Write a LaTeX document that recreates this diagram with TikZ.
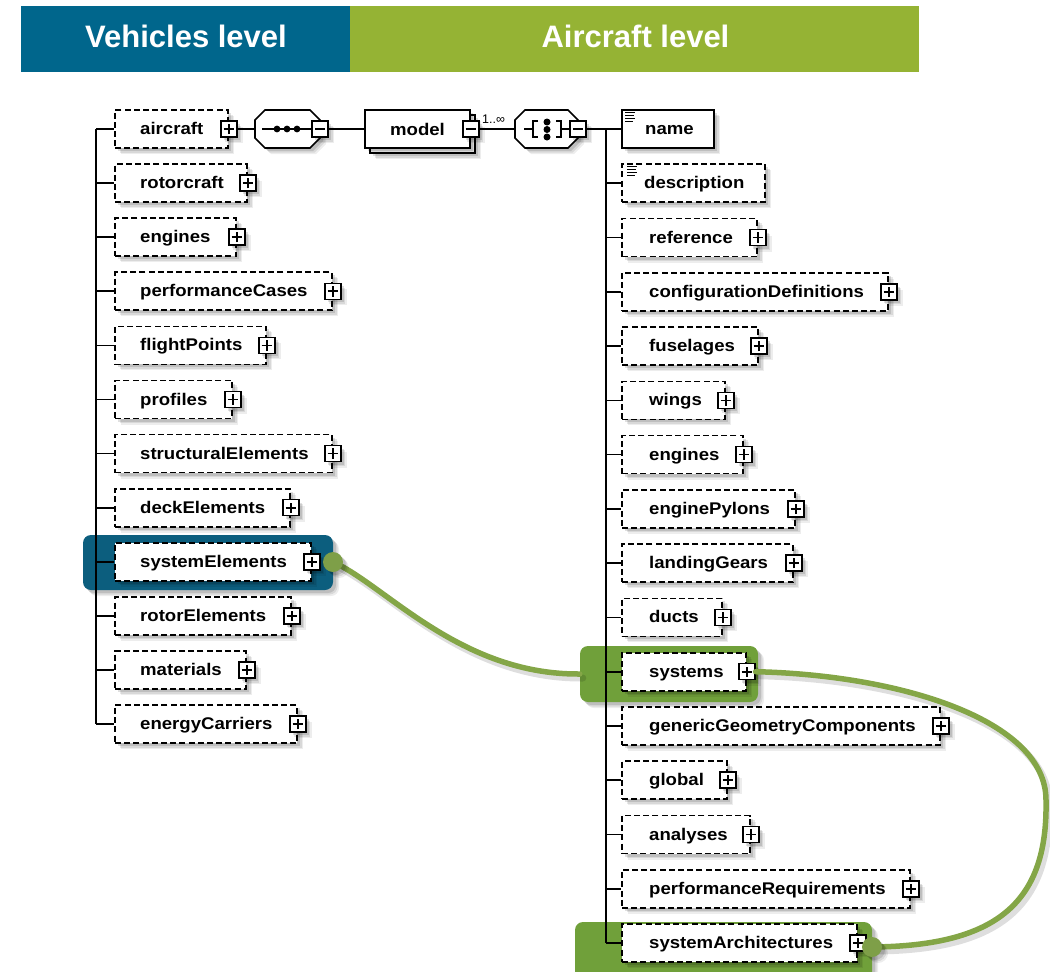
\documentclass[tikz,border=0pt]{standalone}
\usepackage{fontspec}
\setmainfont{Liberation Sans}
\newfontfamily\elemfont{Liberation Sans}[FakeStretch=1.1]
\usetikzlibrary{shadows}

\definecolor{hdrblue}{HTML}{00668C}
\definecolor{hdrgreen}{HTML}{95B334}
\definecolor{hlblue}{HTML}{0C5E7E}
\definecolor{hlgreen}{HTML}{70A03A}
\definecolor{linkgreen}{HTML}{84A647}
\definecolor{dotgreen}{HTML}{7E9F48}

\tikzset{
  soft/.style={
    general shadow={fill=black,opacity=.07,shadow xshift=6pt,shadow yshift=-6pt},
    general shadow={fill=black,opacity=.09,shadow xshift=4.5pt,shadow yshift=-4.5pt},
    general shadow={fill=black,opacity=.12,shadow xshift=3pt,shadow yshift=-3pt}},
  elem/.style={draw=black,fill=white,line width=1.7pt,minimum height=38pt,inner sep=0pt,soft},
  opt/.style={elem,dash pattern=on 6pt off 3.2pt},
  lbl/.style={inner sep=0pt,anchor=base west,font=\elemfont\bfseries\fontsize{16.9}{18}\selectfont},
  pmbox/.style={draw=black,fill=white,line width=1.5pt,minimum size=16pt,inner sep=0pt,soft},
  plusbox/.style={pmbox,path picture={
     \draw[line width=1.7pt] ([xshift=-5.2pt]path picture bounding box.center) -- ([xshift=5.2pt]path picture bounding box.center)
       ([yshift=-5.2pt]path picture bounding box.center) -- ([yshift=5.2pt]path picture bounding box.center);}},
  minusbox/.style={pmbox,path picture={
     \draw[line width=1.7pt] ([xshift=-5.2pt]path picture bounding box.center) -- ([xshift=5.2pt]path picture bounding box.center);}},
  conn/.style={draw=black,line width=1.7pt},
  hl/.style={rounded corners=8pt,inner sep=0pt,soft},
  link/.style={linkgreen,line width=5.5pt,line cap=round},
  linkshade/.style={black,opacity=.13,line width=7pt,line cap=round,transform canvas={shift={(3,4)}}},
  dot/.style={circle,fill=dotgreen,minimum size=20pt,inner sep=0pt,soft},
  hdr/.style={font=\bfseries\fontsize{31}{34}\selectfont,text=white,anchor=base,inner sep=0pt},
  docicon/.style={line width=1.3pt},
}

\begin{document}
\begin{tikzpicture}[x=1pt,y=-1pt]
\useasboundingbox (0,0) rectangle (1050,972);

% header bands
\node[fill=hdrblue,minimum width=329pt,minimum height=66pt,inner sep=0pt] (hdrV) at (185.5,39) {};
\node[fill=hdrgreen,minimum width=569pt,minimum height=66pt,inner sep=0pt] (hdrA) at (634.5,39) {};
\node[hdr] (hdrVt) at (186,47) {Vehicles level};
\node[hdr] (hdrAt) at (635.5,47) {Aircraft level};

% highlight frames
\node[hl,fill=hlblue,minimum width=250pt,minimum height=55pt] (hlA) at (208,562.5) {};
\node[hl,fill=hlgreen,minimum width=178pt,minimum height=56pt] (hlB) at (669,674) {};
\node[hl,fill=hlgreen,minimum width=297pt,minimum height=58pt] (hlC) at (723.5,951) {};

% anchor points of the links
\coordinate (d1pos) at (333,562);
\coordinate (d2pos) at (872,947);

% spines
\coordinate (lsTop) at (96,129);
\coordinate (lsBot) at (96,724);
\coordinate (rsTop) at (606,129);
\coordinate (rsBot) at (606,943.05);
\draw[conn] (lsTop) -- (lsBot);
\draw[conn] (rsTop) -- (rsBot);

% vehicles level children
\foreach \t/\r [count=\i from 0] in {aircraft/228,rotorcraft/247,engines/236,performanceCases/332,flightPoints/266,profiles/232,structuralElements/332,deckElements/290,systemElements/311,rotorElements/291,materials/246,energyCarriers/297}{
  \pgfmathsetmacro\yy{129+54.1*\i}
  \pgfmathsetmacro\ww{\r-115}
  \pgfmathsetmacro\cx{(115+\r)/2}
  \node[opt,minimum width=\ww pt] (L\i) at (\cx,\yy) {};
  \draw[conn] (96,\yy) -- (L\i.west);
  \node[lbl] (T\i) at (140,\yy+5.5) {\t};
  \node[plusbox] (P\i) at (L\i.east) {};
}

% link between the levels (shadow, then line)
\draw[linkshade] (d1pos) .. controls (385,585) and (460,675) .. (hlB.west);
\draw[link] (d1pos) .. controls (385,585) and (460,675) .. (hlB.west);

% sequence compositor
\node[minimum width=65pt,minimum height=38pt,inner sep=0pt] (seq) at (287.5,129) {};
\draw[conn,fill=white,soft] (265,110) -- (310,110) -- (320,120) -- (320,138) -- (310,148) -- (265,148) -- (255,138) -- (255,120) -- cycle;
\draw[conn] (262,129) -- (311,129);
\foreach \dx in {277,287,297} \fill (\dx,129) circle (3.4);
\node[minusbox] (SM) at (seq.east) {};
\draw[conn] (P0.east) -- (seq.west);

% model element (repeated)
\node[elem,minimum width=105pt] (modelback) at (422.5,134) {};
\node[elem,minimum width=105pt,font=\elemfont\bfseries\fontsize{16.9}{18}\selectfont] (model) at (417.5,129) {model};
\node[minusbox] (MM) at (model.east) {};
\draw[conn] (SM.east) -- (model.west);
\node[inner sep=0pt,anchor=base west,font=\fontsize{12.5}{14}\selectfont] (mult) at (482,123) {1..∞};

% choice compositor
\node[minimum width=63pt,minimum height=38pt,inner sep=0pt] (cho) at (546.5,129) {};
\draw[conn,fill=white,soft] (525,110) -- (568,110) -- (578,120) -- (578,138) -- (568,148) -- (525,148) -- (515,138) -- (515,120) -- cycle;
\draw[conn] (524,129) -- (533,129) (538,121) -- (533,121) -- (533,137) -- (538,137);
\draw[conn] (556,121) -- (561,121) -- (561,137) -- (556,137) (561,129) -- (569,129);
\foreach \dy in {122,129.5,137} \fill (547,\dy) circle (3.5);
\node[minusbox] (CM) at (cho.east) {};
\draw[conn] (MM.east) -- (cho.west);

% aircraft level children
\node[elem,minimum width=92pt] (R0) at (668,129) {};
\node[lbl] (RT0) at (645,134.5) {name};
\draw[docicon] (625,112.7) -- (635,112.7) (625,115.6) -- (634,115.6) (625,118.5) -- (635,118.5) (625,121.4) -- (633,121.4);
\draw[conn] (CM.east) -- (R0.west);

\node[opt,minimum width=143pt] (R1) at (693.5,183.27) {};
\draw[conn] (606,183.27) -- (R1.west);
\node[lbl] (RT1) at (644,188.77) {description};
\draw[docicon] (627,166.5) -- (637,166.5) (627,169.4) -- (636,169.4) (627,172.3) -- (637,172.3) (627,175.2) -- (635,175.2);

\foreach \t/\r [count=\j from 2] in {reference/757,configurationDefinitions/888,fuselages/758,wings/725,engines/743,enginePylons/795,landingGears/793,ducts/722,systems/746,genericGeometryComponents/940,global/727,analyses/750,performanceRequirements/910,systemArchitectures/857}{
  \pgfmathsetmacro\yy{129+54.27*\j}
  \pgfmathsetmacro\ww{\r-622}
  \pgfmathsetmacro\cx{(622+\r)/2}
  \node[opt,minimum width=\ww pt] (R\j) at (\cx,\yy) {};
  \draw[conn] (606,\yy) -- (R\j.west);
  \node[lbl] (RT\j) at (649,\yy+5.5) {\t};
  \node[plusbox] (RP\j) at (R\j.east) {};
}

% link from systems to systemArchitectures
\draw[linkshade] (RP10.east) .. controls (900,675) and (1046,720) .. (1046,800) .. controls (1048,900) and (1000,946) .. (d2pos);
\draw[link] (RP10.east) .. controls (900,675) and (1046,720) .. (1046,800) .. controls (1048,900) and (1000,946) .. (d2pos);

% link end dots
\node[dot] (d1) at (d1pos) {};
\node[dot] (d2) at (d2pos) {};
\end{tikzpicture}
\end{document}
